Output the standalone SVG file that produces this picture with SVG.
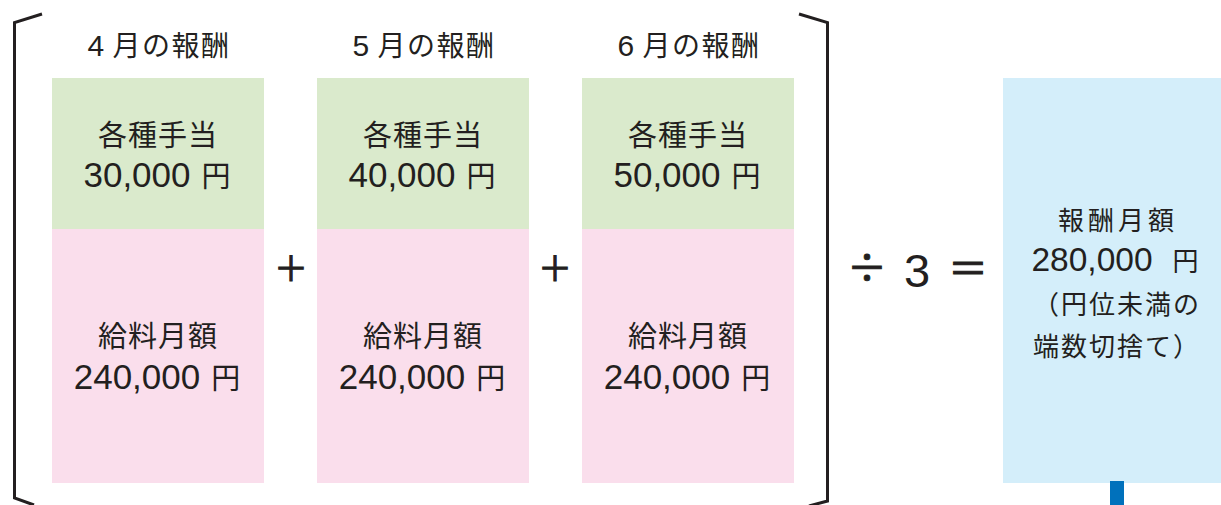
<svg xmlns="http://www.w3.org/2000/svg" width="1221" height="505" viewBox="0 0 1221 505">
<style>
text{font-family:"Noto Sans CJK JP","Noto Sans",sans-serif;fill:#231f20;text-anchor:middle}
.n{font-family:"Liberation Sans","Noto Sans CJK JP",sans-serif}
.hd{font-size:28px}
.hd .n{font-size:30px}
.bx{font-size:29px}
.bx .n{font-size:35px}
.bl{font-size:26px}
.bl .n{font-size:33.5px}
.op{font-size:34px;stroke:#231f20;stroke-width:1}
.g{fill:#daeacc}
.p{fill:#fadeec}
.b{fill:#d4eefa}
.br{fill:none;stroke:#231f20;stroke-width:3;stroke-linejoin:miter}
</style>
<rect width="1221" height="505" fill="#fff"/>
<g id="bracket-left"><path class="br" d="M42,14 L14.5,22.5 V498 L34,505"/></g>
<g id="bracket-right"><path class="br" d="M799,14 L827.5,22.5 V501 L809,506"/></g>
<g id="april">
<text class="hd" x="159" y="56" letter-spacing="1.5"><tspan class="n">4</tspan><tspan dx="7">月の報酬</tspan></text>
<rect class="g" x="52" y="78" width="212" height="151"/>
<rect class="p" x="52" y="229" width="212" height="254"/>
<text class="bx" x="158" y="146" letter-spacing="1">各種手当</text>
<text class="bx" x="157" y="187"><tspan class="n">30,000</tspan><tspan dx="11">円</tspan></text>
<text class="bx" x="158" y="347" letter-spacing="1">給料月額</text>
<text class="bx" x="157" y="389"><tspan class="n">240,000</tspan><tspan dx="11">円</tspan></text>
</g>
<g id="may">
<text class="hd" x="424" y="56" letter-spacing="1.5"><tspan class="n">5</tspan><tspan dx="7">月の報酬</tspan></text>
<rect class="g" x="317" y="78" width="212" height="151"/>
<rect class="p" x="317" y="229" width="212" height="254"/>
<text class="bx" x="423" y="146" letter-spacing="1">各種手当</text>
<text class="bx" x="422" y="187"><tspan class="n">40,000</tspan><tspan dx="11">円</tspan></text>
<text class="bx" x="423" y="347" letter-spacing="1">給料月額</text>
<text class="bx" x="422" y="389"><tspan class="n">240,000</tspan><tspan dx="11">円</tspan></text>
</g>
<g id="june">
<text class="hd" x="689" y="56" letter-spacing="1.5"><tspan class="n">6</tspan><tspan dx="7">月の報酬</tspan></text>
<rect class="g" x="582" y="78" width="212" height="151"/>
<rect class="p" x="582" y="229" width="212" height="254"/>
<text class="bx" x="688" y="146" letter-spacing="1">各種手当</text>
<text class="bx" x="687" y="187"><tspan class="n">50,000</tspan><tspan dx="11">円</tspan></text>
<text class="bx" x="688" y="347" letter-spacing="1">給料月額</text>
<text class="bx" x="687" y="389"><tspan class="n">240,000</tspan><tspan dx="11">円</tspan></text>
</g>
<g id="operators">
<text class="op" x="291" y="281">＋</text>
<text class="op" x="555" y="281">＋</text>
<text x="867" y="282" style="font-size:40px;stroke:#231f20;stroke-width:0.8">÷</text>
<text class="n" x="917" y="287" style="font-size:47px">3</text>
<text x="968" y="283" style="font-size:40px;stroke:#231f20;stroke-width:1">＝</text>
</g>
<g id="result">
<rect class="b" x="1003" y="78" width="218" height="405"/>
<text class="bl" x="1118" y="230" letter-spacing="4">報酬月額</text>
<text class="bl" x="1115" y="271"><tspan class="n">280,000</tspan><tspan dx="20">円</tspan></text>
<text class="bl" x="1117" y="314" font-size="27.5" letter-spacing="2">（円位未満の</text>
<text class="bl" x="1117" y="356" font-size="27.5" letter-spacing="2">端数切捨て）</text>
<rect x="1110" y="481" width="14" height="24" fill="#0071bc"/>
</g>
</svg>
